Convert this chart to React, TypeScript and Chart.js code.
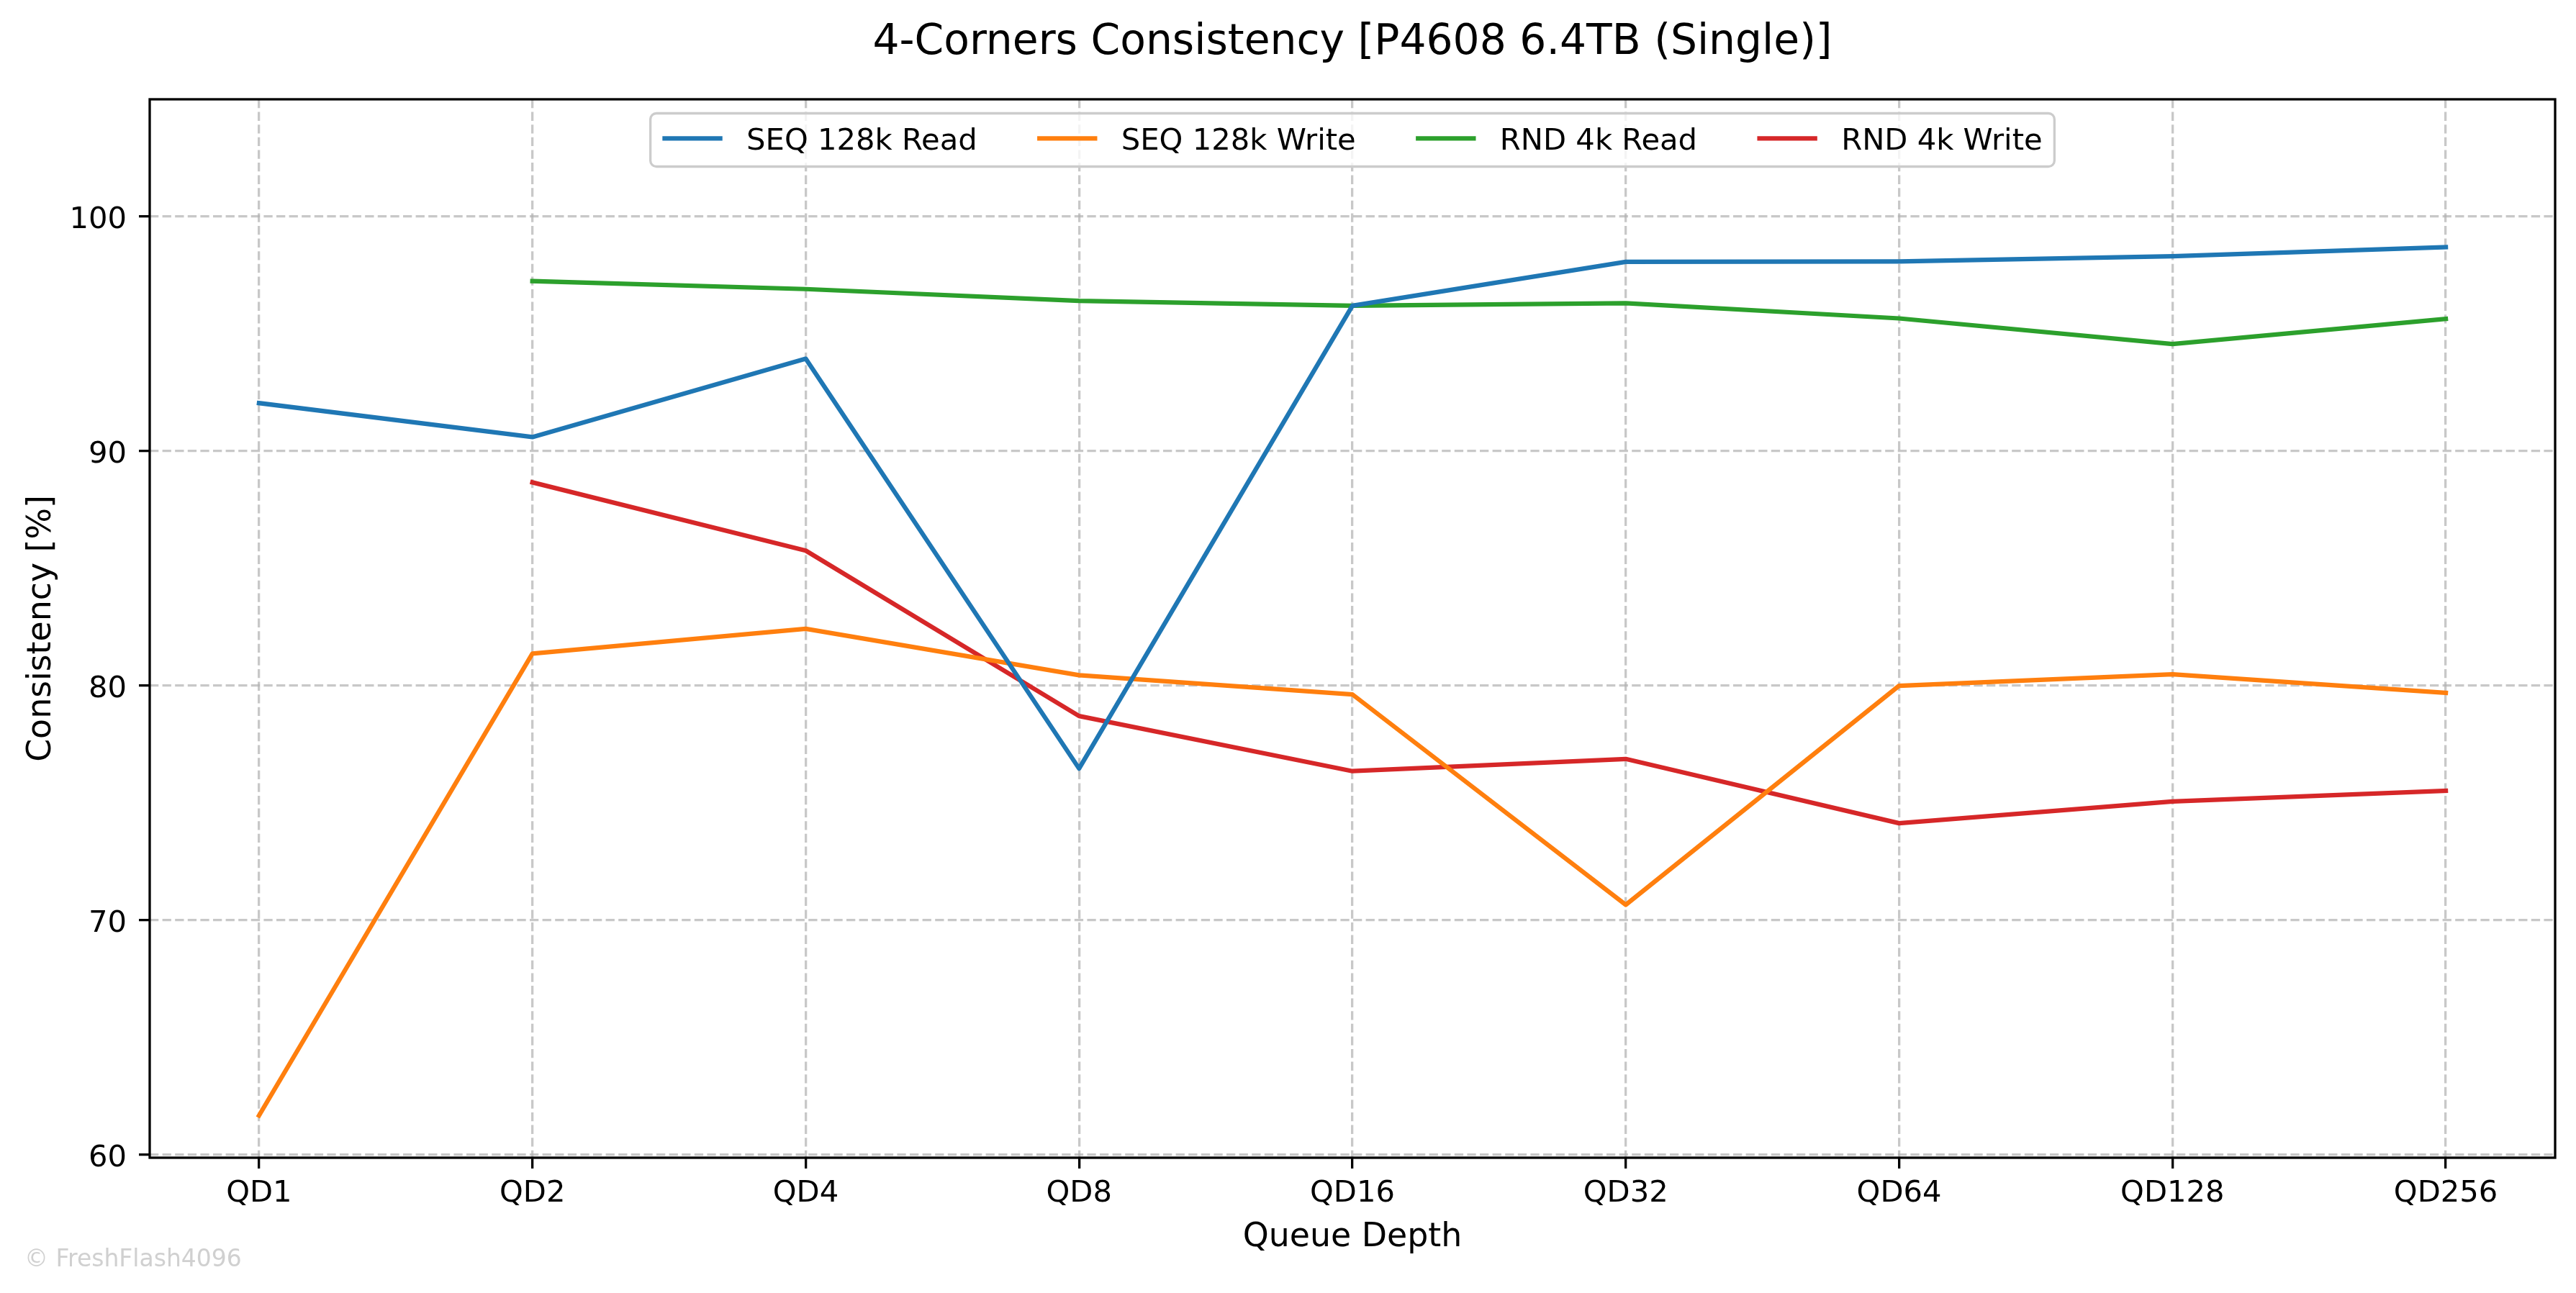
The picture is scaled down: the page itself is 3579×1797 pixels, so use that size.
import React, { useEffect, useRef } from "react";
import { Chart, registerables } from "chart.js";

Chart.register(...registerables);

const W = 3579;
const H = 1797;
const FONT = '"DejaVu Sans", "Noto Sans", sans-serif';

const titleText = "4-Corners Consistency [P4608 6.4TB (Single)]";
const xTitle = "Queue Depth";
const yTitle = "Consistency [%]";
const watermark = "\u00A9 FreshFlash4096";

const categories = ["QD1", "QD2", "QD4", "QD8", "QD16", "QD32", "QD64", "QD128", "QD256"];
const seqRead = [92.05, 90.6, 93.94, 76.47, 96.2, 98.07, 98.09, 98.31, 98.7];
const seqWrite = [61.68, 81.37, 82.43, 80.45, 79.63, 70.66, 80.0, 80.49, 79.7];
const rndRead = [null, 97.25, 96.91, 96.41, 96.2, 96.31, 95.66, 94.57, 95.64];
const rndWrite = [null, 88.67, 85.76, 78.71, 76.36, 76.88, 74.14, 75.07, 75.52];

const seriesNames = ["SEQ 128k Read", "SEQ 128k Write", "RND 4k Read", "RND 4k Write"];
const seriesValues = [seqRead, seqWrite, rndRead, rndWrite];
const seriesColors = ["#1f77b4", "#ff7f0e", "#2ca02c", "#d62728"];
const yTicks = [60, 70, 80, 90, 100];

const GRID_COLOR = "rgba(176,176,176,0.7)";
const GRID_W = 3.3;
const GRID_DASH = [12.3, 5.3];
const TICK_FS = 41.7;
const LABEL_FS = 45.8;

// vertical offset of glyph centre below the 'middle' baseline point
function centerBelowMiddle(text: string, size: number) {
  const c = document.createElement("canvas").getContext("2d")!;
  c.font = `${size}px ${FONT}`;
  c.textBaseline = "middle";
  const m = c.measureText(text);
  return (m.actualBoundingBoxDescent - m.actualBoundingBoxAscent) / 2;
}

const overlayPlugin = {
  id: "overlay",
  afterDatasetsDraw(chart: any) {
    const { ctx, chartArea: ca } = chart;
    ctx.save();
    ctx.strokeStyle = "#000";
    ctx.lineWidth = 3.3;
    ctx.setLineDash([]);
    ctx.strokeRect(ca.left, ca.top, ca.right - ca.left, ca.bottom - ca.top);
    ctx.restore();
  },
  afterDraw(chart: any) {
    const { ctx, chartArea: ca } = chart;
    const cx = (ca.left + ca.right) / 2;
    ctx.save();
    // title
    ctx.fillStyle = "#000";
    ctx.font = `58.3px ${FONT}`;
    ctx.textAlign = "center";
    ctx.textBaseline = "alphabetic";
    ctx.fillText(titleText, cx, 75);

    // legend
    const fs = TICK_FS;
    ctx.font = `${fs}px ${FONT}`;
    const datasets = chart.data.datasets;
    const widths = datasets.map((d: any) => ctx.measureText(d.label).width);
    const handle = 2 * fs;
    const hpad = 0.8 * fs;
    const colsp = 2 * fs;
    const bpad = 0.4 * fs;
    let totalW = 2 * bpad + colsp * (datasets.length - 1);
    widths.forEach((w: number) => (totalW += handle + hpad + w));
    const x0 = cx - totalW / 2;
    const y0 = ca.top + 19.5;
    const h = 74;
    const r = 0.2 * fs;
    ctx.beginPath();
    ctx.roundRect(x0, y0, totalW, h, r);
    ctx.fillStyle = "rgba(255,255,255,0.8)";
    ctx.fill();
    ctx.strokeStyle = "#cccccc";
    ctx.lineWidth = 3.3;
    ctx.stroke();
    const rowY = y0 + 34.8;
    const baseY = y0 + 50.8;
    let x = x0 + bpad;
    datasets.forEach((d: any, i: number) => {
      ctx.beginPath();
      ctx.strokeStyle = d.borderColor;
      ctx.lineWidth = d.borderWidth;
      ctx.lineCap = "butt";
      ctx.moveTo(x, rowY);
      ctx.lineTo(x + handle, rowY);
      ctx.stroke();
      x += handle + hpad;
      ctx.fillStyle = "#000";
      ctx.textAlign = "left";
      ctx.textBaseline = "alphabetic";
      ctx.fillText(d.label, x, baseY);
      x += widths[i] + colsp;
    });

    // watermark
    ctx.font = `33px ${FONT}`;
    ctx.fillStyle = "#d0d0d0";
    ctx.textAlign = "left";
    ctx.textBaseline = "alphabetic";
    ctx.fillText(watermark, 34, 1760);
    ctx.restore();
  },
};

export default function App() {
  const ref = useRef<HTMLCanvasElement>(null);

  useEffect(() => {
    if (!ref.current) return;
    Chart.defaults.font.family = FONT;

    const cxTick = centerBelowMiddle("D1", TICK_FS);
    const cyTick = centerBelowMiddle("90", TICK_FS);
    const cxTitle = centerBelowMiddle("DH", LABEL_FS);
    const cyTitle = centerBelowMiddle(yTitle, LABEL_FS);
    const lh = LABEL_FS * 1.2;
    const tickLh = TICK_FS * 1.2;
    // x tick labels: glyph centre wanted 46px below the axis line (1609 -> 1655)
    const xTickPad = 46 - 15 - tickLh / 2 - cxTick;
    // x title glyph centre wanted at y = 1715 (canvas bottom 1797)
    const xTitlePadBottom = H - 1715 - lh / 2 + cxTitle;
    // y title glyph centre wanted at x = 58.3 (text 'up' points to -x after rotation)
    const yTitlePadTop = 58.3 - lh / 2 + cyTitle;

    const chart = new Chart(ref.current, {
      type: "line",
      data: {
        datasets: seriesValues.map((vals, i) => ({
          label: seriesNames[i],
          data: vals.map((v, j) => ({ x: j, y: v })),
          borderColor: seriesColors[i],
          backgroundColor: seriesColors[i],
          borderWidth: 6.25,
          pointRadius: 0,
          pointHoverRadius: 0,
          tension: 0,
          borderJoinStyle: "round",
          borderCapStyle: "square",
          spanGaps: false,
          fill: false,
        })),
      },
      options: {
        responsive: false,
        maintainAspectRatio: false,
        animation: false,
        devicePixelRatio: 1,
        events: [],
        layout: { padding: { top: 138, right: 29, left: 0, bottom: 0 } },
        plugins: {
          legend: { display: false },
          title: { display: false },
          tooltip: { enabled: false },
        },
        scales: {
          x: {
            type: "linear",
            min: -0.4,
            max: 8.4,
            afterBuildTicks: (s: any) => {
              s.ticks = categories.map((_, i) => ({ value: i }));
            },
            afterFit: (s: any) => {
              s.height = 188;
            },
            ticks: {
              callback: (v: any) => categories[v as number],
              font: { size: TICK_FS, family: FONT },
              color: "#000",
              padding: xTickPad,
              maxRotation: 0,
              autoSkip: false,
            },
            grid: {
              color: GRID_COLOR,
              lineWidth: GRID_W,
              tickLength: 15,
              tickColor: "#000",
              tickWidth: 3.3,
            },
            border: { display: false, dash: GRID_DASH },
            title: {
              display: true,
              text: xTitle,
              font: { size: LABEL_FS, family: FONT },
              color: "#000",
              padding: { top: 0, bottom: xTitlePadBottom },
            },
          },
          y: {
            type: "linear",
            min: 59.88,
            max: 105,
            afterBuildTicks: (s: any) => {
              s.ticks = yTicks.map((v) => ({ value: v }));
            },
            afterFit: (s: any) => {
              s.width = 208;
            },
            ticks: {
              font: { size: TICK_FS, family: FONT },
              color: "#000",
              padding: 17,
              labelOffset: 1 - cyTick,
            },
            grid: {
              color: GRID_COLOR,
              lineWidth: GRID_W,
              tickLength: 15,
              tickColor: "#000",
              tickWidth: 3.3,
            },
            border: { display: false, dash: GRID_DASH },
            title: {
              display: true,
              text: yTitle,
              font: { size: LABEL_FS, family: FONT },
              color: "#000",
              padding: { top: yTitlePadTop, bottom: 0 },
            },
          },
        },
      } as any,
      plugins: [overlayPlugin],
    });
    return () => chart.destroy();
  }, []);

  return (
    <div style={{ position: "fixed", left: 0, top: 0, width: W, height: H, background: "#fff" }}>
      <canvas ref={ref} width={W} height={H} style={{ display: "block", width: W, height: H }} />
    </div>
  );
}
